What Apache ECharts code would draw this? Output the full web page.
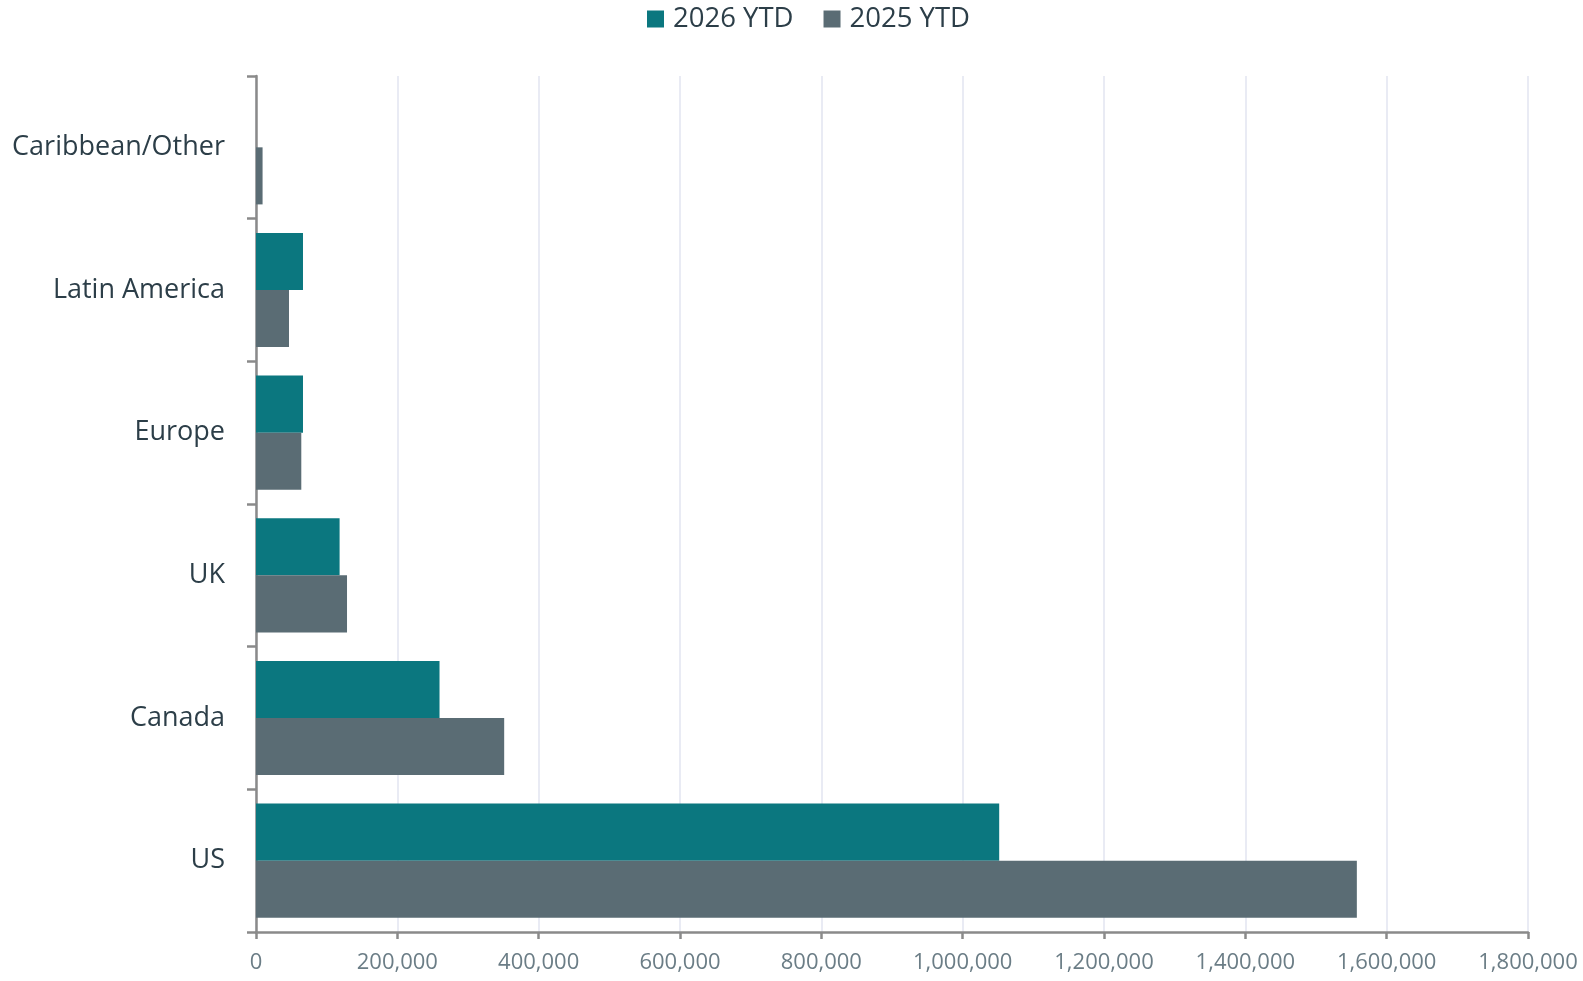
<!DOCTYPE html>
<html><head><meta charset="utf-8">
<script src="https://cdn.jsdelivr.net/npm/echarts@6/dist/echarts.min.js"></script>
<style>html,body{margin:0;padding:0;background:#fff}#c{width:1583px;height:981px}</style>
</head><body><div id="c"></div>
<script>
const categories = ['Caribbean/Other','Latin America','Europe','UK','Canada','US'];
const ytd2026 = [0, 66500, 66500, 118300, 259700, 1051700];
const ytd2025 = [9300, 46700, 64100, 128800, 351200, 1557800];
const xTicks = {min: 0, max: 1800000, interval: 200000};

const chart = echarts.init(document.getElementById('c'));
chart.setOption({
  animation: false,
  legend: {
    top: 0, left: 642, itemWidth: 17, itemHeight: 17, itemGap: 30,
    icon: 'rect',
    textStyle: {fontFamily: 'Open Sans', fontSize: 27.5, color: '#2c3e48', padding: [0,0,0,4]},
    data: ['2026 YTD','2025 YTD']
  },
  grid: {left: 256, right: 55, top: 76, bottom: 49, containLabel: false},
  xAxis: {
    type: 'value', min: xTicks.min, max: xTicks.max, interval: xTicks.interval,
    axisLine: {show: true, lineStyle: {color: '#8a8a8a', width: 2.5}},
    axisTick: {show: true, length: 7, lineStyle: {color: '#8a8a8a', width: 2.5}},
    splitLine: {show: true, lineStyle: {color: '#e2e5f0', width: 1.5}},
    axisLabel: {fontFamily: 'Open Sans', fontSize: 22, color: '#6b7d86', margin: 20,
      formatter: v => v.toLocaleString('en-US')}
  },
  yAxis: {
    type: 'category', data: categories, inverse: true,
    axisLine: {show: true, lineStyle: {color: '#8a8a8a', width: 2.5}},
    axisTick: {show: true, length: 9, lineStyle: {color: '#8a8a8a', width: 2.5}},
    axisLabel: {fontFamily: 'Open Sans', fontSize: 27, color: '#2c3e48', margin: 31}
  },
  series: [
    {name: '2026 YTD', type: 'bar', data: ytd2026, barGap: '0%', barCategoryGap: '20%',
     itemStyle: {color: '#0b777f'}},
    {name: '2025 YTD', type: 'bar', data: ytd2025, barGap: '0%', barCategoryGap: '20%',
     itemStyle: {color: '#5a6c74'}}
  ]
});
</script></body></html>
